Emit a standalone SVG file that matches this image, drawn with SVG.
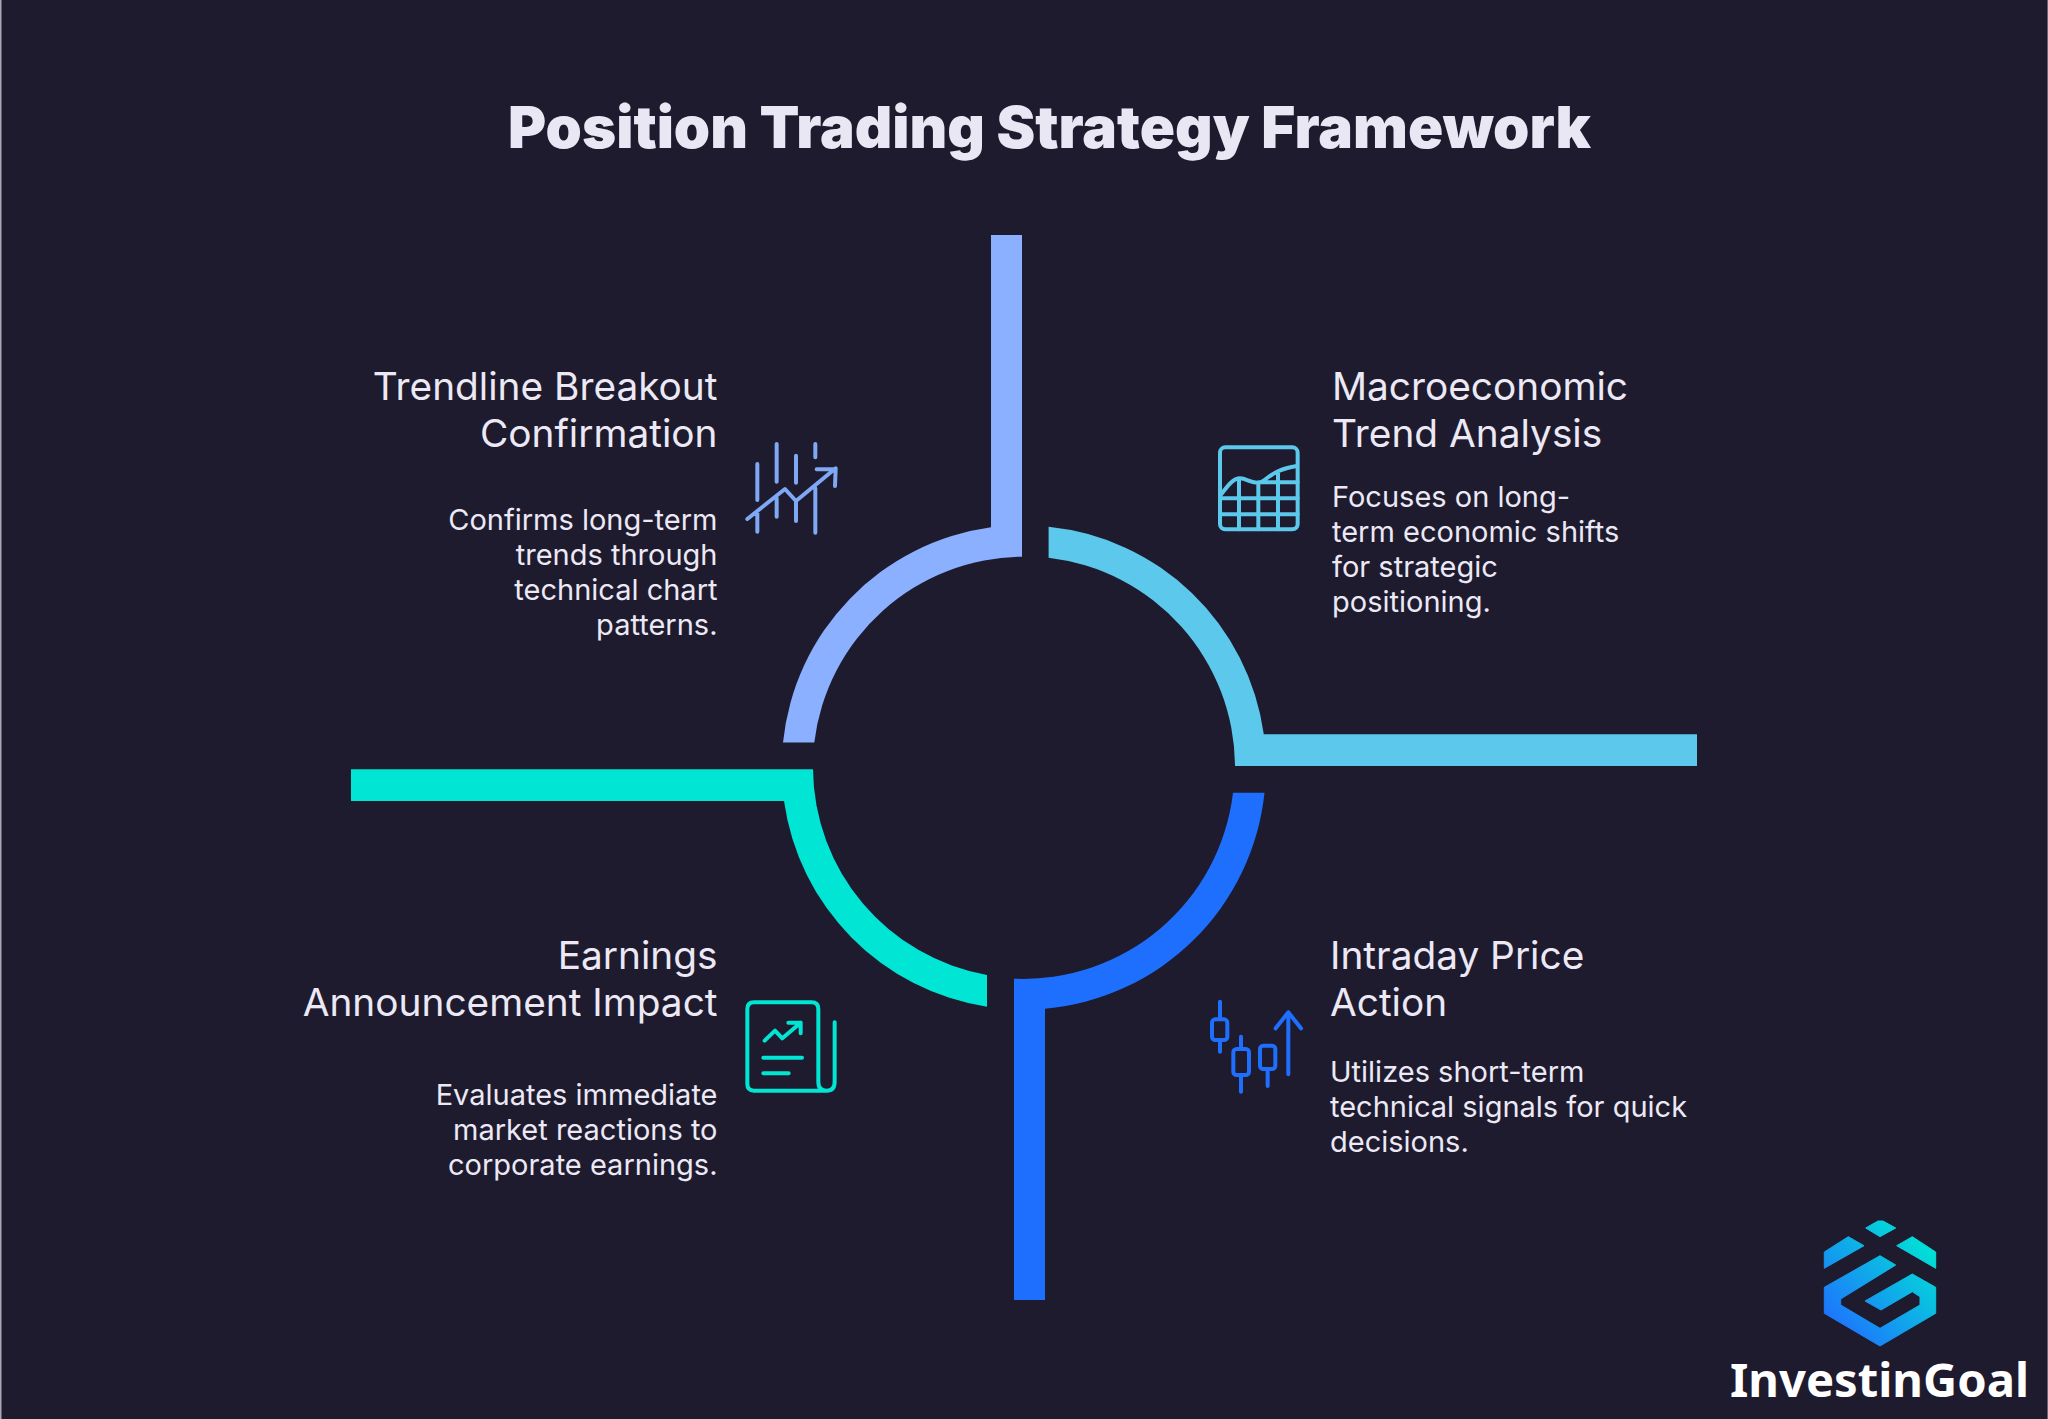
<svg xmlns="http://www.w3.org/2000/svg" width="2048" height="1419" viewBox="0 0 2048 1419">
<defs>
<linearGradient id="logoGrad" gradientUnits="userSpaceOnUse" x1="1835" y1="1335" x2="1935" y2="1245"><stop offset="0" stop-color="#1f6fff"/><stop offset="1" stop-color="#00e5d4"/></linearGradient>
</defs>
<style>
.h{font-family:Inter,"Liberation Sans",sans-serif;font-size:38.8px;fill:#ece9f5;font-weight:400}
.b{font-family:Inter,"Liberation Sans",sans-serif;font-size:29px;fill:#ece9f5;font-weight:400}
.r{text-anchor:end}
.i{fill:none;stroke-width:12;stroke-linecap:round;stroke-linejoin:round}
</style>
<rect width="2048" height="1419" fill="#1e1b2f"/>
<rect x="0" y="0" width="1.5" height="1419" fill="#a9a8b2"/>
<rect x="2047" y="0" width="1" height="1419" fill="#66647a"/>
<text id="title" x="1049.5" y="148" text-anchor="middle" font-family="Inter, 'Liberation Sans', sans-serif" font-size="58.2" font-weight="900" fill="#e9e7f3">Position Trading Strategy Framework</text>
<g id="connectors">
<path id="arc-tl" fill="#8ab0ff" d="M783 742.5H814.3A211 211 0 0 1 1022 556.7V235H991V527.3A242 242 0 0 0 783 742.5Z"/>
<path id="arc-tr" fill="#5cc8eb" d="M1048.6 526.7V557.7A211 211 0 0 1 1235 766H1697V734.3H1263.8A242 242 0 0 0 1048.6 526.7Z"/>
<path id="arc-br" fill="#1f6fff" d="M1233 792.7H1264.5A242 242 0 0 1 1045 1008.7V1300H1014V978.7A211 211 0 0 0 1233 792.7Z"/>
<path id="arc-bl" fill="#00e5d4" d="M813 769.3V801H351V769.3ZM813 769.3A211 211 0 0 0 987 975V1006.7A242 242 0 0 1 784 801Z"/>
</g>
<g id="node-trendline">
<text class="h r" x="717.5" y="400">Trendline Breakout</text>
<text class="h r" x="717.5" y="446.5">Confirmation</text>
<text class="b r" x="717.5" y="529.5">Confirms long-term</text>
<text class="b r" x="717.5" y="564.5">trends through</text>
<text class="b r" x="717.5" y="599.5">technical chart</text>
<text class="b r" x="717.5" y="634.5">patterns.</text>
<g class="i" stroke="#7fa8f5" transform="translate(700 420) scale(.3333)">
<path d="M172 132V240M172 280V335M230 72V185M230 235V290M288 107V188M288 245V303M346 72V112M346 205V338M142 297L255 207L288 243L407 145M350 148H407L405 198"/>
</g>
</g>
<g id="node-macro">
<text class="h" x="1332" y="400">Macroeconomic</text>
<text class="h" x="1332" y="446.5">Trend Analysis</text>
<text class="b" x="1332" y="506.5">Focuses on long-</text>
<text class="b" x="1332" y="541.5">term economic shifts</text>
<text class="b" x="1332" y="576.5">for strategic</text>
<text class="b" x="1332" y="611.5">positioning.</text>
<g class="i" stroke="#5cc8eb" transform="translate(1190 420) scale(.3333)">
<rect x="90" y="82" width="233" height="246" rx="16"/>
<path d="M92 225C115 195 130 175 150 175C170 175 180 190 205 188C230 185 240 150 321 138M92 235H323M92 283H323M205 187H323M147 178V328M205 188V328M264 155V328"/>
</g>
</g>
<g id="node-intraday">
<text class="h" x="1330" y="969">Intraday Price</text>
<text class="h" x="1330" y="1015.5">Action</text>
<text class="b" x="1330" y="1082">Utilizes short-term</text>
<text class="b" x="1330" y="1117">technical signals for quick</text>
<text class="b" x="1330" y="1152">decisions.</text>
<g class="i" stroke="#1f6fff" transform="translate(1190 980) scale(.3333)">
<rect x="66" y="118" width="46" height="62" rx="10"/>
<rect x="130" y="207" width="47" height="78" rx="10"/>
<rect x="210" y="197" width="46" height="70" rx="10"/>
<path d="M90 65V118M90 180V215M153 170V207M153 285V335M233 267V318M295 283V97M257 145L295 97L333 145"/>
</g>
</g>
<g id="node-earnings">
<text class="h r" x="717.5" y="969">Earnings</text>
<text class="h r" x="717.5" y="1015.5">Announcement Impact</text>
<text class="b r" x="717.5" y="1105">Evaluates immediate</text>
<text class="b r" x="717.5" y="1140">market reactions to</text>
<text class="b r" x="717.5" y="1175">corporate earnings.</text>
<g class="i" stroke="#00e5d4" transform="translate(730 980) scale(.3333)">
<path d="M290 332H72Q52 332 52 312V87Q52 67 72 67H245Q265 67 265 87V305Q265 332 290 332Q314 332 314 305V127M104 182L135 152L157 175L212 128M175 128H212V160M100 233H216M100 280H176"/>
</g>
</g>
<g id="logo">
<path fill="url(#logoGrad)" stroke="url(#logoGrad)" stroke-width="1" stroke-linejoin="round" d="M1865.7 1228L1878 1221H1883L1895.7 1228L1880 1236.7ZM1824.3 1268.3V1252L1848.3 1236.7L1864 1245.7ZM1896.7 1245.7L1912.3 1236.7L1935.7 1252V1268.3ZM1880 1255.7L1895.7 1265L1840.7 1299V1305L1880 1328.3L1920 1305V1296.7L1912.3 1291.7L1881 1310L1865 1301L1912.3 1274L1935.7 1287.3V1313.3L1880 1346L1824.3 1313.3V1287.3Z"/>
<text x="1879.5" y="1397" text-anchor="middle" font-family="'Noto Sans','Open Sans',sans-serif" font-size="47.2" font-weight="700" fill="#ffffff">InvestinGoal</text>
</g>
</svg>
